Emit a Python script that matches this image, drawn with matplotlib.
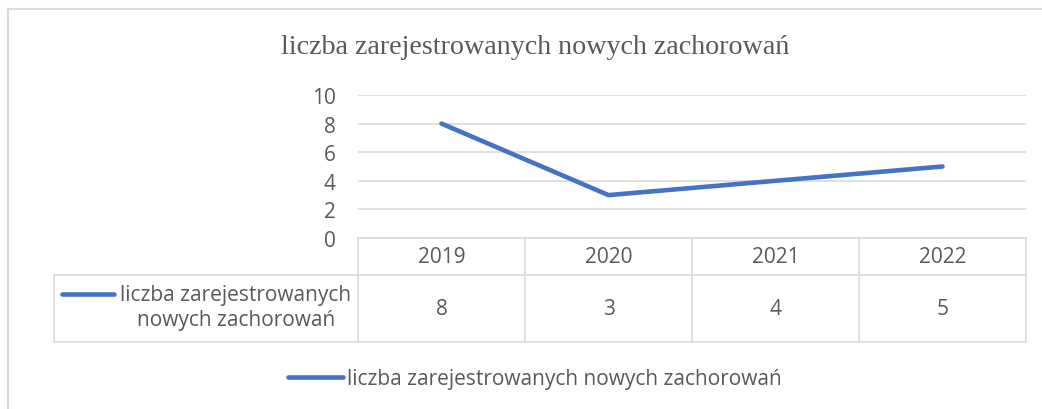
import matplotlib
matplotlib.use("Agg")
import matplotlib.pyplot as plt
from matplotlib.lines import Line2D

# Dane
lata = ["2019", "2020", "2021", "2022"]
zachorowania = [8, 3, 4, 5]
nazwa_serii = "liczba zarejestrowanych nowych zachorowań"
y_ticki = [0, 2, 4, 6, 8, 10]

KOLOR = "#4472C4"
SZARY_TEKST = "#595959"
SZARY_LINIA = "#D9D9D9"
FONT = "Open Sans"
FS = 15

W, H = 1042, 410
fig = plt.figure(figsize=(W / 100, H / 100), dpi=100)

# Ramka wykresu (gora i lewa krawedz)
fig.add_artist(Line2D([8 / W, 8 / W], [1 - 10 / H, 0], transform=fig.transFigure,
                      color=SZARY_LINIA, lw=1.5))
fig.add_artist(Line2D([8 / W, 1], [1 - 10 / H, 1 - 10 / H], transform=fig.transFigure,
                      color=SZARY_LINIA, lw=1.5))

# Obszar wykresu
left, right, top, bottom = 358, 1026, 96, 239
ax = fig.add_axes([left / W, 1 - bottom / H, (right - left) / W, (bottom - top) / H])
x = list(range(len(lata)))
ax.plot(x, zachorowania, color=KOLOR, lw=3.3, solid_capstyle="round", zorder=3)
ax.set_xlim(-0.5, len(lata) - 0.5)
ax.set_ylim(0, 10)
ax.set_yticks(y_ticki)
ax.set_xticks([])
ax.grid(axis="y", color=SZARY_LINIA, lw=1.2)
ax.set_axisbelow(True)
for s in ax.spines.values():
    s.set_visible(False)
ax.tick_params(axis="y", length=0, pad=16, labelsize=FS, labelcolor=SZARY_TEKST)
for t in ax.get_yticklabels():
    t.set_fontfamily(FONT)

# Tytul
fig.text(535 / W, 1 - 47 / H, nazwa_serii, ha="center", va="center",
         fontsize=20.2, color=SZARY_TEKST, family="Liberation Serif")

# Tabela danych
ph = bottom - top
pw = right - left
y_h = -(276 - bottom) / ph
y_v = -(343 - bottom) / ph
x_l = -(left - 54) / pw
tr = ax.transAxes
kw = dict(color=SZARY_LINIA, lw=1.2, transform=tr, clip_on=False)
n = len(lata)
ax.add_line(Line2D([0, 1], [0, 0], **kw))
ax.add_line(Line2D([x_l, 1], [y_h, y_h], **kw))
ax.add_line(Line2D([x_l, 1], [y_v, y_v], **kw))
ax.add_line(Line2D([x_l, x_l], [y_h, y_v], **kw))
for i in range(n + 1):
    ax.add_line(Line2D([i / n, i / n], [0, y_v], **kw))
for i, (rok, v) in enumerate(zip(lata, zachorowania)):
    ax.text((i + 0.5) / n, y_h / 2, rok, transform=tr, ha="center", va="center",
            fontsize=FS, color=SZARY_TEKST, family=FONT)
    ax.text((i + 0.5) / n, (y_h + y_v) / 2, str(v), transform=tr, ha="center",
            va="center", fontsize=FS, color=SZARY_TEKST, family=FONT)

# Klucz legendy w tabeli
y1 = -(295 - bottom) / ph
y2 = -(322 - bottom) / ph
ax.add_line(Line2D([-(left - 62) / pw, -(left - 114) / pw], [y1, y1], color=KOLOR,
                   lw=3.3, solid_capstyle="round", transform=tr, clip_on=False))
ax.text(-(left - 236) / pw, (y1 + y2) / 2, "liczba zarejestrowanych\nnowych zachorowań",
        transform=tr, ha="center", va="center", multialignment="center",
        fontsize=FS, color=SZARY_TEKST, family=FONT, linespacing=1.25)

# Legenda
leg = fig.legend([Line2D([], [], color=KOLOR, lw=3.3, solid_capstyle="round")],
                 [nazwa_serii], loc="center", bbox_to_anchor=(535 / W, 1 - 380 / H),
                 frameon=False, handlelength=2.6, handletextpad=0.2,
                 prop={"family": FONT, "size": FS})
for t in leg.get_texts():
    t.set_color(SZARY_TEKST)

fig.savefig("out.png", dpi=100)
